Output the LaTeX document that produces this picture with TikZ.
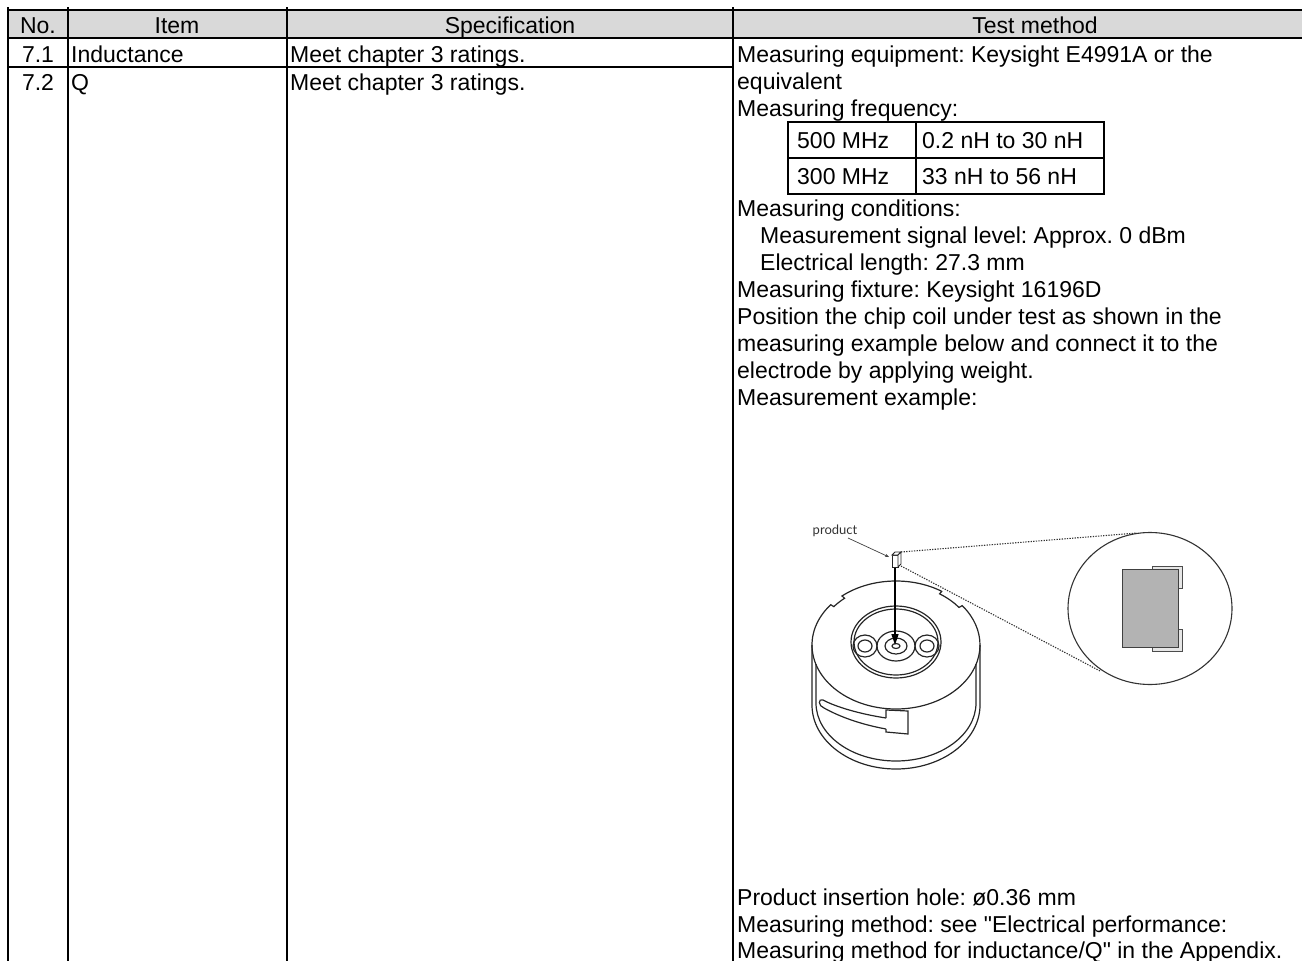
\documentclass[tikz,border=0pt]{standalone}
\usepackage{fontspec}
\newfontfamily\bodyfont{Liberation Sans}
\newfontfamily\labelfont{Lato}
\usetikzlibrary{arrows.meta,calc,shapes.geometric}
\definecolor{headgray}{HTML}{D9D9D9}
\definecolor{bodygray}{HTML}{B3B3B3}
\definecolor{termgray}{HTML}{E6E6E6}
\frenchspacing
\begin{document}
\begin{tikzpicture}[x=1pt,y=-1pt,
  tline/.style={line width=2pt,line cap=rect},
  txt/.style={anchor=base west,inner sep=0pt,font=\bodyfont\fontsize{23}{27}\selectfont},
  ctxt/.style={anchor=base,inner sep=0pt,font=\bodyfont\fontsize{23}{27}\selectfont},
  fx/.style={line width=1.2pt,draw=black!85},
  dots/.style={line width=1.1pt,draw=black!80,dash pattern=on 1.3pt off 1.3pt},
  lbl/.style={inner sep=0pt,font=\labelfont\fontsize{13}{15}\selectfont,text=black!80}]
\useasboundingbox (0,0) rectangle (1302,961);
% ---- main table ----
\fill[headgray] (8,10) rectangle (1302,38);
\draw[tline] (8,10) -- (1302,10);
\draw[tline] (8,38) -- (1302,38);
\draw[tline] (8,67) -- (733,67);
\foreach \x in {8,68,287,733} \draw[tline] (\x,8) -- (\x,962);
% header
\node[ctxt] (hno) at (38,33) {No.};
\node[ctxt] (hitem) at (177,33) {Item};
\node[ctxt] (hspec) at (510,33) {Specification};
\node[ctxt] (htest) at (1035,33) {Test method};
% rows
\node[ctxt] (n71) at (38,62) {7.1};
\node[txt] (i71) at (71,62) {Inductance};
\node[txt] (s71) at (290,62) {Meet chapter 3 ratings.};
\node[ctxt] (n72) at (38,90) {7.2};
\node[txt] (i72) at (71,90) {Q};
\node[txt] (s72) at (290,90) {Meet chapter 3 ratings.};
% test method text
\node[txt] (t1) at (737,62) {Measuring equipment: Keysight E4991A or the};
\node[txt] (t2) at (737,89) {equivalent};
\node[txt] (t3) at (737,116) {Measuring frequency:};
\draw[tline] (788,122) rectangle (1104,194);
\draw[tline] (788,158) -- (1104,158);
\draw[tline] (916,122) -- (916,194);
\node[txt] (f1) at (797,148) {500 MHz};
\node[txt] (f2) at (922,148) {0.2 nH to 30 nH};
\node[txt] (f3) at (797,184) {300 MHz};
\node[txt] (f4) at (922,184) {33 nH to 56 nH};
\node[txt] (t4) at (737,216) {Measuring conditions:};
\node[txt] (t5) at (760,243) {Measurement signal level: Approx. 0 dBm};
\node[txt] (t6) at (760,270) {Electrical length: 27.3 mm};
\node[txt] (t7) at (737,297) {Measuring fixture: Keysight 16196D};
\node[txt] (t8) at (737,324) {Position the chip coil under test as shown in the};
\node[txt] (t9) at (737,351) {measuring example below and connect it to the};
\node[txt] (t10) at (737,378) {electrode by applying weight.};
\node[txt] (t11) at (737,405) {Measurement example:};
\node[txt] (b1) at (737,905) {Product insertion hole: ø0.36 mm};
\node[txt] (b2) at (737,932) {Measuring method: see "Electrical performance:};
\node[txt] (b3) at (737,958) {Measuring method for inductance/Q" in the Appendix.};
% ---- fixture illustration ----
\coordinate (C) at (896,645);
\draw[fx] ($(C)+(-57:84 and 64)$) arc[start angle=-57,end angle=-130,x radius=84,y radius=64]
  -- ($(C)+(-130:80 and 61)$) arc[start angle=-130,end angle=-141,x radius=80,y radius=61]
  -- ($(C)+(-141:84 and 64)$) arc[start angle=-141,end angle=-398,x radius=84,y radius=64]
  -- ($(C)+(-398:80 and 61)$) arc[start angle=-398,end angle=-417,x radius=80,y radius=61]
  -- cycle;
\draw[fx] (812,645) -- (812,705) arc[start angle=180,end angle=0,x radius=84,y radius=64] -- (980,645);
\draw[fx] (816,664) -- (816,703) arc[start angle=180,end angle=0,x radius=80,y radius=58] -- (976,664);
% recess and pads
\draw[fx] (896,642) ellipse[x radius=45,y radius=36];
\draw[fx] (896,642) ellipse[x radius=42,y radius=33];
\draw[fx] (896,646) ellipse[x radius=19,y radius=15];
\draw[fx] (896,646) ellipse[x radius=11,y radius=8];
\draw[fx] (896,646) ellipse[x radius=4,y radius=2.5];
\draw[fx] (865,646) ellipse[x radius=12,y radius=11];
\draw[fx] (865,646) ellipse[x radius=7,y radius=6];
\draw[fx] (927,646) ellipse[x radius=12,y radius=11];
\draw[fx] (927,646) ellipse[x radius=7,y radius=6];
% slot and tab
\draw[fx] (886,718) .. controls (860,714) and (836,707) .. (823,700)
  .. controls (818,698) and (818,706) .. (824,708)
  .. controls (842,718) and (864,725) .. (886,729);
\draw[fx] (886,718) -- (886,710) -- (908,711) -- (908,734) -- (886,732) -- (886,729);
% product chip
\draw[fx,line width=0.8pt,fill=white] (892,555) rectangle (898,567);
\draw[fx,line width=0.8pt,fill=white] (892,555) -- (895,552) -- (901,552) -- (898,555) -- cycle;
\draw[fx,line width=0.8pt,fill=white] (898,555) -- (901,552) -- (901,564) -- (898,567) -- cycle;
\coordinate (prodbot) at (895,568);
\coordinate (hole) at (895,645);
\coordinate (prodtr) at (901,552);
\coordinate (prodbr) at (901,566);
\draw[line width=1.6pt,-{Triangle[length=11pt,width=7pt]}] (prodbot) -- (hole);
\node[lbl] (prodlabel) at (835,531) {product};
\coordinate (leadend) at (889,557);
\draw[line width=0.7pt,black!75,-{Stealth[length=4pt,width=3pt]}] (848,538) -- (leadend);
% magnifier
\node[draw=black!80,line width=1.1pt,ellipse,minimum width=164pt,minimum height=152pt,inner sep=0pt] (mag) at (1150,608.5) {};
\coordinate (magtop) at (1137,533);
\coordinate (magbot) at (1100,671);
\draw[dots] (prodtr) -- (magtop);
\draw[dots] (prodbr) -- (magbot);
\draw[line width=0.9pt,draw=black!70,fill=termgray] (1152,566) rectangle (1182,588);
\draw[line width=0.9pt,draw=black!70,fill=termgray] (1152,629) rectangle (1182,651);
\draw[line width=1pt,draw=black!75,fill=bodygray] (1122,569) rectangle (1178,647);
\end{tikzpicture}
\end{document}
